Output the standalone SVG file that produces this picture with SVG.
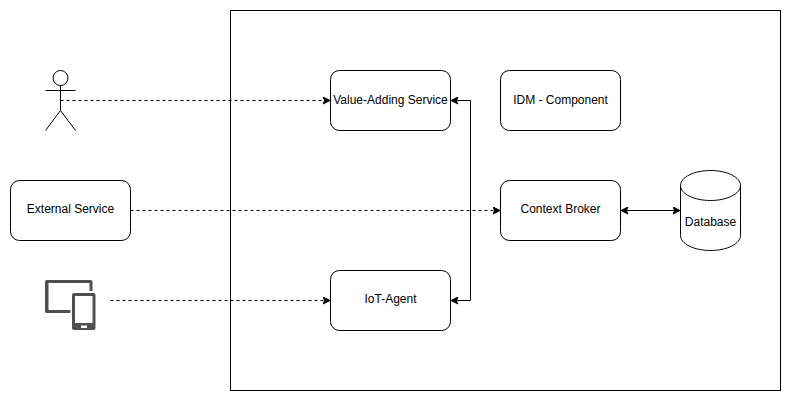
<svg xmlns="http://www.w3.org/2000/svg" width="791" height="401" viewBox="0 0 791 401">
<style>
.box{fill:#fff;stroke:#000;stroke-width:1}
.line{fill:none;stroke:#000;stroke-width:1}
.dash{stroke-dasharray:3 3}
text{font-family:"Liberation Sans",Arial,Helvetica,sans-serif;font-size:12px;fill:#000;text-anchor:middle}
</style>
<defs>
<marker id="end" viewBox="0 0 8 8" refX="7.5" refY="4" markerWidth="8" markerHeight="8" markerUnits="userSpaceOnUse" orient="auto-start-reverse">
<path d="M0.5 0.5L7.5 4L0.5 7.5L2.2 4Z" fill="#000" stroke="#000"/>
</marker>
</defs>
<rect width="791" height="401" fill="#fff"/>
<rect id="container" class="box" x="230.5" y="10.5" width="550" height="380"/>
<g id="connectors">
<path class="line dash" d="M60.5 100.5H330" marker-end="url(#end)"/>
<path class="line dash" d="M130.5 210.5H500" marker-end="url(#end)"/>
<path class="line dash" d="M110.5 300.5H330" marker-end="url(#end)"/>
<path class="line" d="M451 100.5H470.5V300.5H451" marker-start="url(#end)" marker-end="url(#end)"/>
<path class="line" d="M621 210.5H680" marker-start="url(#end)" marker-end="url(#end)"/>
</g>
<g id="user" class="line">
<circle cx="60.5" cy="78" r="7.5" stroke="#000" fill="#fff"/>
<path d="M60.5 85.5V110.5M45.5 90.5H75.5M60.5 110.5L45.5 130.5M60.5 110.5L75.5 130.5"/>
</g>
<g id="value-adding-service">
<rect class="box" x="330.5" y="70.5" width="120" height="60" rx="9" ry="9"/>
<text x="390.5" y="104">Value-Adding Service</text>
</g>
<g id="idm-component">
<rect class="box" x="500.5" y="70.5" width="120" height="60" rx="9" ry="9"/>
<text x="560.5" y="104">IDM - Component</text>
</g>
<g id="external-service">
<rect class="box" x="10.5" y="180.5" width="120" height="60" rx="9" ry="9"/>
<text x="70.5" y="213">External Service</text>
</g>
<g id="context-broker">
<rect class="box" x="500.5" y="180.5" width="120" height="60" rx="9" ry="9"/>
<text x="560.5" y="213">Context Broker</text>
</g>
<g id="iot-agent">
<rect class="box" x="330.5" y="270.5" width="120" height="60" rx="9" ry="9"/>
<text x="390.5" y="303">IoT-Agent</text>
</g>
<g id="database">
<path class="box" d="M680.5 185.5C680.5 177.2 694 170.5 710.5 170.5C727 170.5 740.5 177.2 740.5 185.5V235.5C740.5 243.8 727 250.5 710.5 250.5C694 250.5 680.5 243.8 680.5 235.5Z"/>
<path class="line" d="M680.5 185.5C680.5 193.8 694 200.5 710.5 200.5C727 200.5 740.5 193.8 740.5 185.5"/>
<text x="710.5" y="226">Database</text>
</g>
<g id="devices">
<path d="M46.5 280H90.5Q92.5 280 92.5 282V291H89.5V283H48.5V310H70.5V313H46.5Q45 313 45 311V282Q45 280 46.5 280Z" fill="#505050"/>
<path fill-rule="evenodd" d="M74 293H93.5Q95.5 293 95.5 295V328Q95.5 330 93.5 330H74Q72 330 72 328V295Q72 293 74 293ZM75 296V323H92.5V296ZM81 325.5V328H87V325.5Z" fill="#505050"/>
</g>
</svg>
